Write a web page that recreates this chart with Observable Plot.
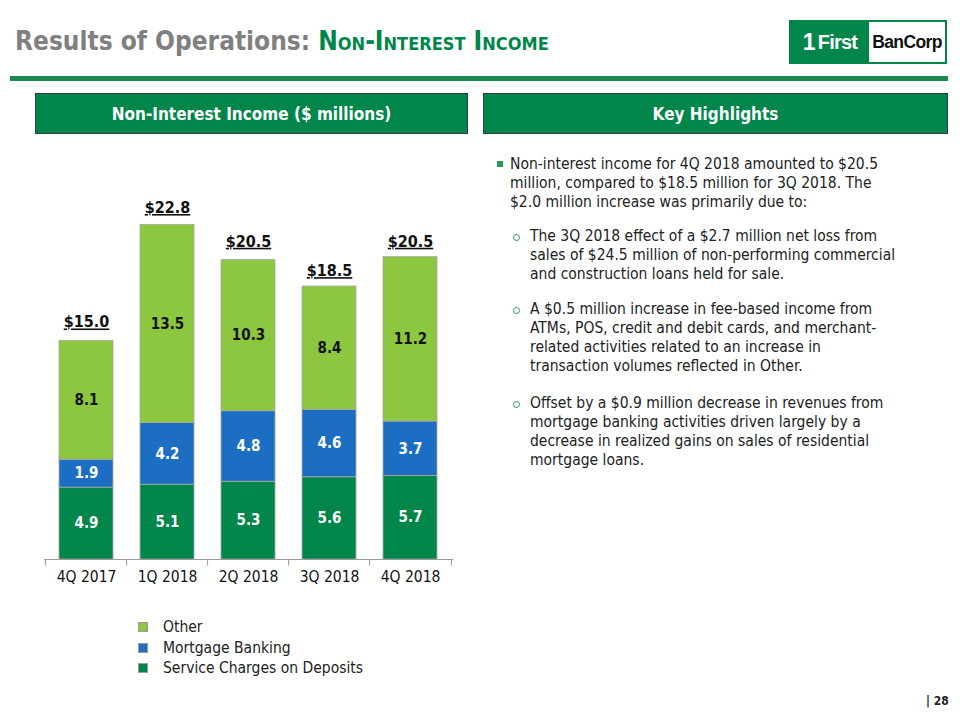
<!DOCTYPE html>
<html>
<head>
<meta charset="utf-8">
<script src="https://cdn.jsdelivr.net/npm/d3@7"></script>
<script src="https://cdn.jsdelivr.net/npm/@observablehq/plot@0.6"></script>
<style>
  html, body { margin: 0; padding: 0; background: #fff; }
  #page { position: relative; width: 960px; height: 720px; overflow: hidden; font-family: "DejaVu Sans Condensed", "DejaVu Sans", sans-serif; color: #222; }
  .abs { position: absolute; }
  #title { left: 15px; top: 26px; font-size: 26px; font-weight: bold; color: #808080; white-space: nowrap; }
  #title .g { color: #00854A; font-variant: small-caps; }
  #logo { left: 789px; top: 20px; width: 154px; height: 40px; border: 2px solid #00854A; display: flex; font-family: "Liberation Sans", Arial, sans-serif; }
  #logo .l { width: 78px; background: #00854A; color: #fff; font-weight: bold; font-size: 20px; display: flex; align-items: center; justify-content: center; letter-spacing: -0.8px; }
  #logo .l b { font-size: 23px; margin-right: 3px; }
  #logo .r { flex: 1; background: #fff; color: #111; font-weight: bold; font-size: 17.5px; display: flex; align-items: center; justify-content: center; letter-spacing: -0.6px; }
  #rule { left: 10px; top: 76px; width: 938px; height: 5px; background: #1a8a50; }
  .hdr { top: 93px; height: 39px; background: #00854A; border: 1px solid #3a3a3a; color: #fff; font-weight: bold; font-size: 17px; display: flex; align-items: center; justify-content: center; }
  #hl { left: 497px; top: 155px; width: 450px; font-size: 15.5px; line-height: 19px; }
  .p { position: relative; padding-left: 13px; margin-bottom: 15px; }
  .p .sq { position: absolute; left: 0; top: 6px; width: 6px; height: 6px; background: #2a9a5a; }
  .s { position: relative; padding-left: 33px; }
  .s .ci { position: absolute; left: 16px; top: 7px; width: 5px; height: 5px; border: 1px solid #2a9a5a; border-radius: 50%; }
  #chart { left: 0px; top: 180px; }
  #legend { left: 138px; top: 617px; font-size: 15.5px; line-height: 20.5px; }
  #legend .it { display: flex; align-items: center; }
  #legend .bx { width: 8px; height: 8px; margin-right: 15px; border: 1px solid #9a9a9a; }
  #pg { left: 926px; top: 694px; font-size: 12px; font-weight: bold; color: #222; }
</style>
</head>
<body>
<div id="page">
  <div id="title" class="abs">Results of Operations: <span class="g">Non-Interest Income</span></div>
  <div id="logo" class="abs"><div class="l"><b>1</b>First</div><div class="r">BanCorp</div></div>
  <div id="rule" class="abs"></div>
  <div class="abs hdr" style="left:35px; width:431px;">Non-Interest Income ($ millions)</div>
  <div class="abs hdr" style="left:483px; width:463px;">Key Highlights</div>
  <div id="hl" class="abs">
    <div class="p"><span class="sq"></span>Non-interest income for 4Q 2018 amounted to $20.5<br>million, compared to $18.5 million for 3Q 2018. The<br>$2.0 million increase was primarily due to:</div>
    <div class="s" style="margin-bottom:16px"><span class="ci"></span>The 3Q 2018 effect of a $2.7 million net loss from<br>sales of $24.5 million of non-performing commercial<br>and construction loans held for sale.</div>
    <div class="s" style="margin-bottom:18px"><span class="ci"></span>A $0.5 million increase in fee-based income from<br>ATMs, POS, credit and debit cards, and merchant-<br>related activities related to an increase in<br>transaction volumes reflected in Other.</div>
    <div class="s"><span class="ci"></span>Offset by a $0.9 million decrease in revenues from<br>mortgage banking activities driven largely by a<br>decrease in realized gains on sales of residential<br>mortgage loans.</div>
  </div>
  <div id="chart" class="abs"></div>
  <div id="legend" class="abs"></div>
  <div id="pg" class="abs">|&nbsp;28</div>
</div>
<script>
const quarters = ["4Q 2017", "1Q 2018", "2Q 2018", "3Q 2018", "4Q 2018"];
const serviceCharges = [4.9, 5.1, 5.3, 5.6, 5.7];
const mortgageBanking = [1.9, 4.2, 4.8, 4.6, 3.7];
const other = [8.1, 13.5, 10.3, 8.4, 11.2];
const totals = [15.0, 22.8, 20.5, 18.5, 20.5];
const seriesNames = ["Service Charges on Deposits", "Mortgage Banking", "Other"];
const seriesColors = ["#00854A", "#1C6EC3", "#8DC63F"];
const legendOrder = ["Other", "Mortgage Banking", "Service Charges on Deposits"];

const seriesValues = [serviceCharges, mortgageBanking, other];
const rows = [];
quarters.forEach((q, i) => {
  seriesNames.forEach((s, j) => rows.push({quarter: q, series: s, value: seriesValues[j][i]}));
});
const totalRows = quarters.map((q, i) => ({quarter: q, total: totals[i]}));

const W = 470, H = 420, mL = 44, mR = 17;
const step = (W - mL - mR) / quarters.length;

const plot = Plot.plot({
  width: W, height: H,
  marginLeft: mL, marginRight: mR, marginTop: 20, marginBottom: 41,
  x: {domain: quarters, paddingInner: 0.33, paddingOuter: 0.165, label: null},
  y: {domain: [0, 24.46], axis: null},
  color: {domain: seriesNames, range: seriesColors},
  style: {fontFamily: "DejaVu Sans Condensed, DejaVu Sans, sans-serif", fontSize: "16px", color: "#222", background: "transparent"},
  marks: [
    Plot.barY(rows, {x: "quarter", y: "value", z: "series", fill: "series", order: seriesNames, stroke: "#a8a8a8", strokeWidth: 0.8}),
    Plot.text(rows, Plot.stackY({x: "quarter", y: "value", z: "series", order: seriesNames,
      text: d => d.value.toFixed(1),
      fill: d => d.series === "Other" ? "#111" : "#ffffff",
      fontWeight: "bold", fontSize: 15})),
    Plot.text(totalRows, {x: "quarter", y: "total", text: d => "$" + d.total.toFixed(1), dy: -17, fontWeight: "bold", fontSize: 16, fill: "#111"}),
    Plot.ruleY([0], {stroke: "#9a9a9a", strokeWidth: 1}),
    Plot.ruleX(quarters, {x: d => d, y1: 0, y2: -0.45, dx: -step / 2, stroke: "#9a9a9a"}),
    Plot.ruleX(quarters.slice(-1), {x: d => d, y1: 0, y2: -0.45, dx: step / 2, stroke: "#9a9a9a"}),
    Plot.axisX({tickSize: 0, tickPadding: 11, fontSize: 15.5, fill: "#111", label: null})
  ]
});
plot.querySelectorAll("text").forEach(t => {
  if (t.textContent.startsWith("$")) t.style.textDecoration = "underline";
});
document.getElementById("chart").appendChild(plot);

const leg = document.getElementById("legend");
legendOrder.forEach(name => {
  const it = document.createElement("div");
  it.className = "it";
  const bx = document.createElement("span");
  bx.className = "bx";
  bx.style.background = seriesColors[seriesNames.indexOf(name)];
  const tx = document.createElement("span");
  tx.textContent = name;
  it.appendChild(bx); it.appendChild(tx);
  leg.appendChild(it);
});
</script>
</body>
</html>
